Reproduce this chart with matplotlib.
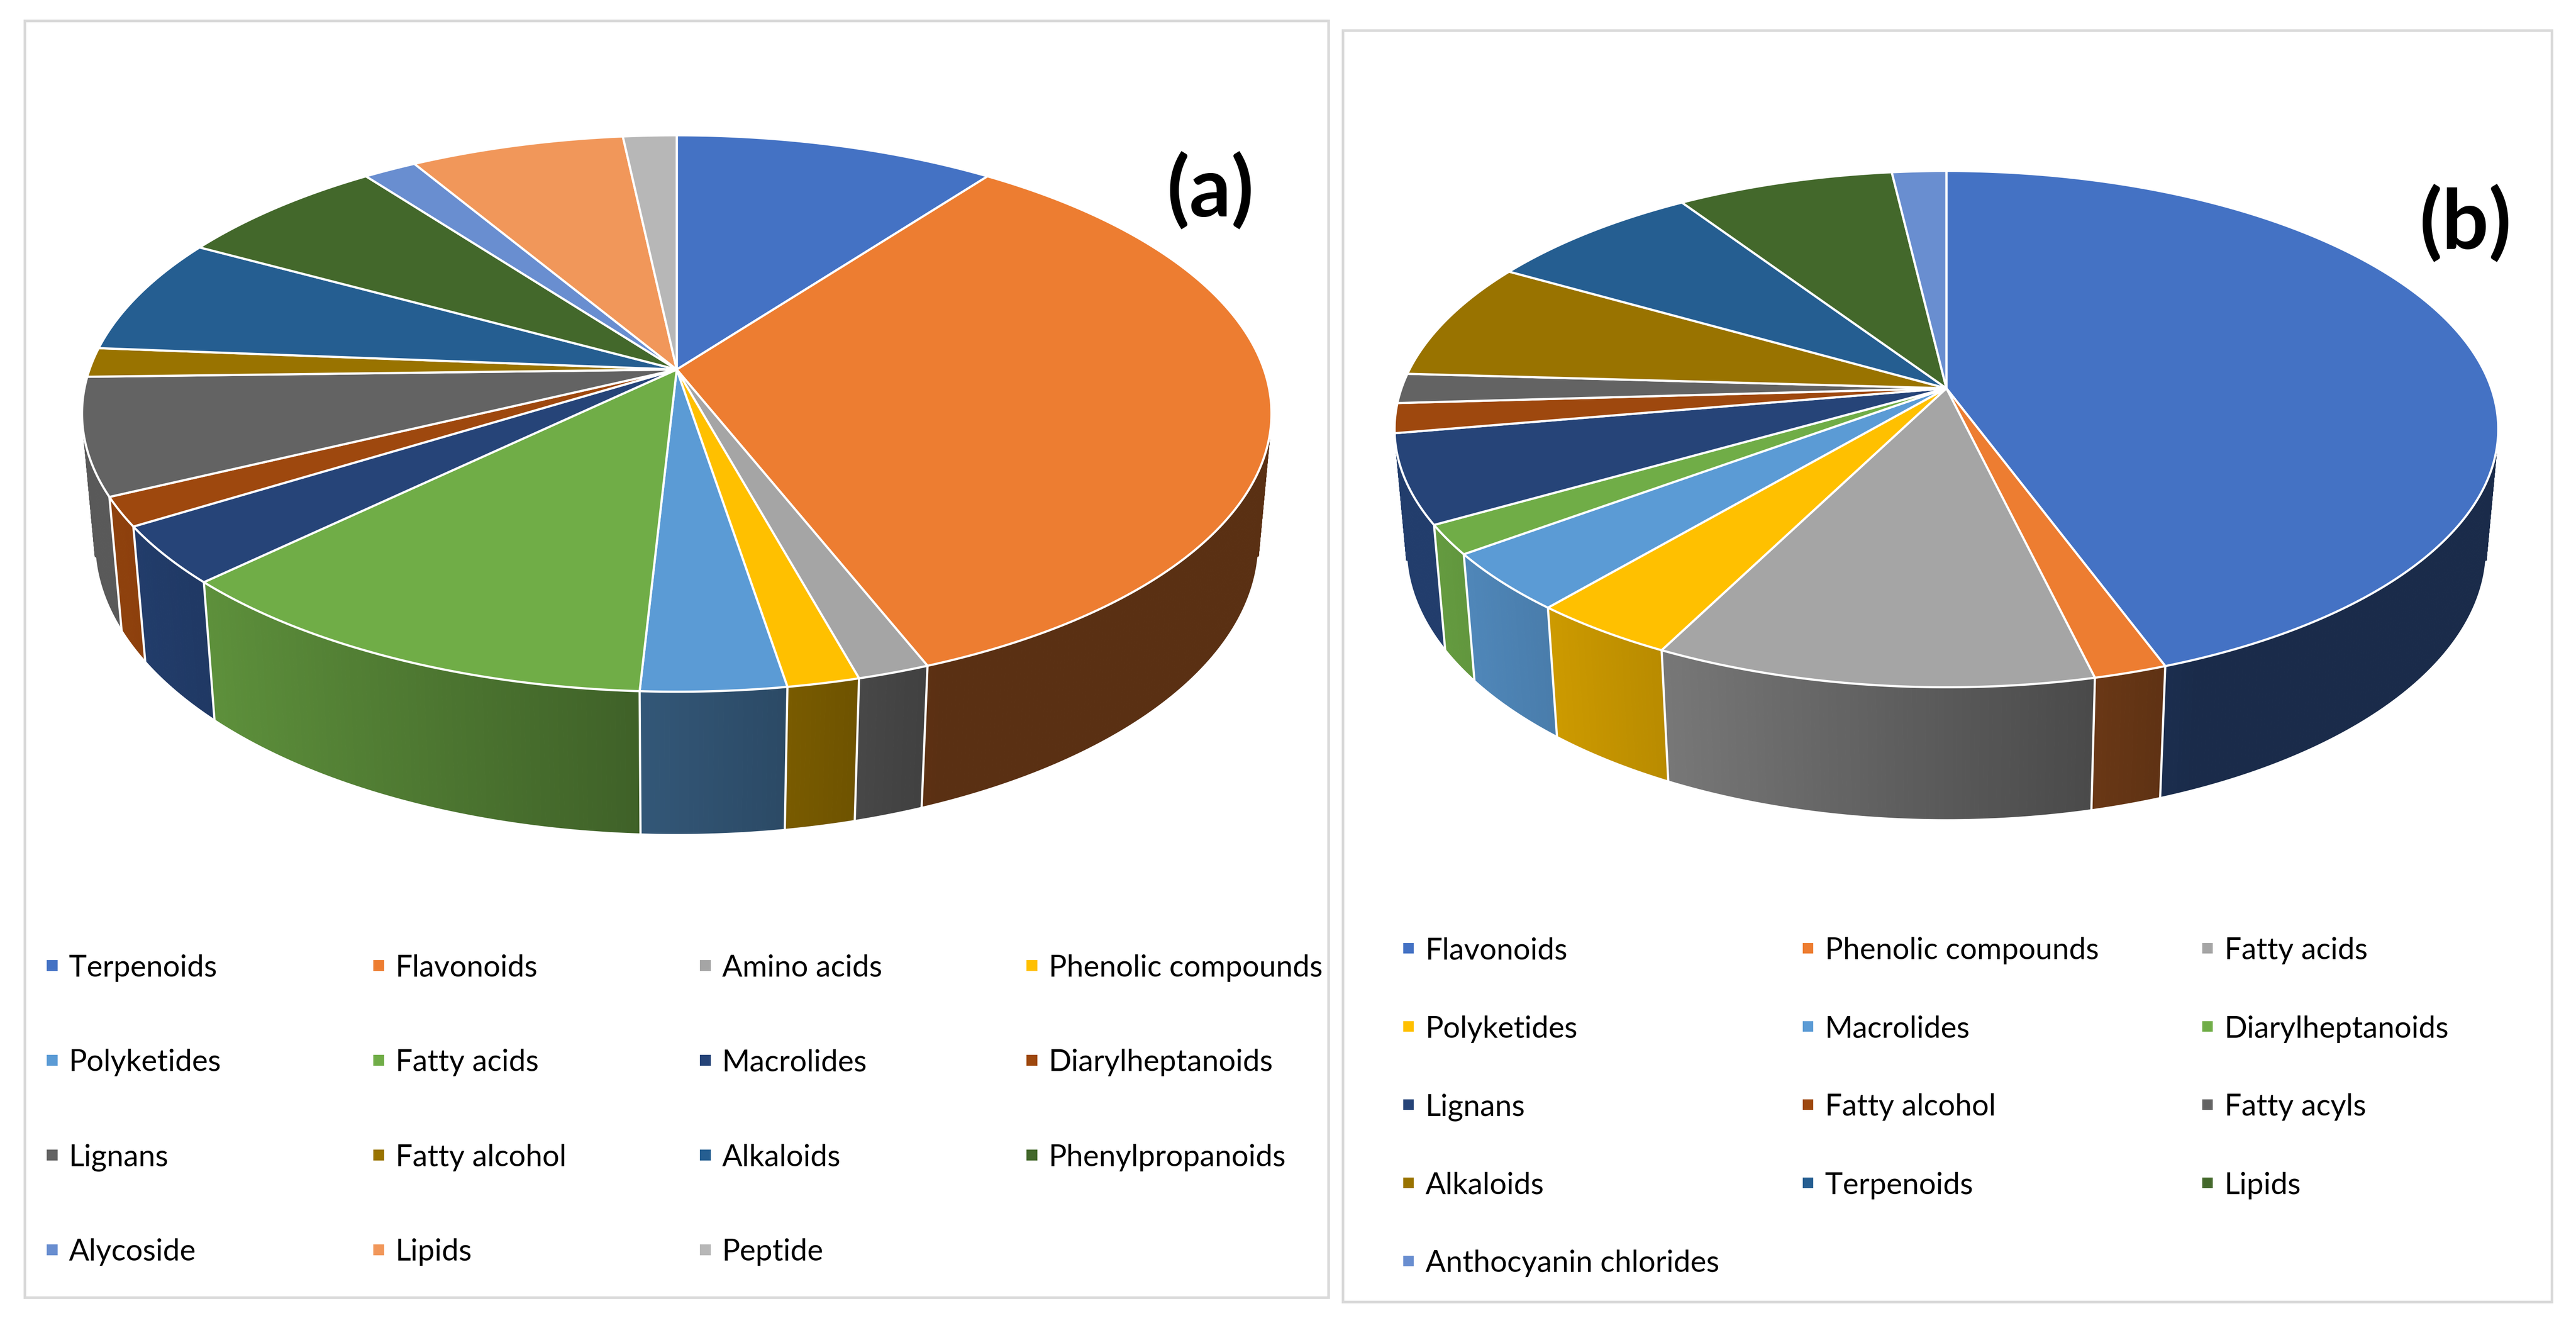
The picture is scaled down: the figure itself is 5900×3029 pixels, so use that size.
import numpy as np
import matplotlib
matplotlib.use("Agg")
import matplotlib.pyplot as plt
from matplotlib.patches import Polygon, Rectangle
from matplotlib.colors import to_rgb

plt.rcParams['font.family'] = ['Lato', 'DejaVu Sans']

# panel (a): number of compounds per class
labels_a = ["Terpenoids", "Flavonoids", "Amino acids", "Phenolic compounds",
            "Polyketides", "Fatty acids", "Macrolides", "Diarylheptanoids",
            "Lignans", "Fatty alcohol", "Alkaloids", "Phenylpropanoids",
            "Alycoside", "Lipids", "Peptide"]
counts_a = [6, 20, 1, 1, 2, 7, 2, 1, 4, 1, 4, 4, 1, 4, 1]

# panel (b)
labels_b = ["Flavonoids", "Phenolic compounds", "Fatty acids",
            "Polyketides", "Macrolides", "Diarylheptanoids",
            "Lignans", "Fatty alcohol", "Fatty acyls",
            "Alkaloids", "Terpenoids", "Lipids",
            "Anthocyanin chlorides"]
counts_b = [24, 1, 6, 2, 2, 1, 3, 1, 1, 4, 4, 4, 1]

# Office palette, in series order
office_colors = ["#4472C4", "#ED7D31", "#A5A5A5", "#FFC000", "#5B9BD5", "#70AD47",
                 "#264478", "#9E480E", "#636363", "#997300", "#255E91", "#43682B",
                 "#698ED0", "#F1975A", "#B7B7B7"]

W, H = 5900, 3029
TILT = np.radians(27.5)   # camera elevation
DIST = 5.61               # camera distance in pie radii
DEPTH = 0.25              # pie thickness in radii
EDGE_LW = 3.6


def project(theta, z, cx, cy, scale):
    """Point on the rim at angle theta (clockwise from 12 o'clock), height z."""
    x = np.sin(theta)
    y = -np.cos(theta)
    s, c = np.sin(TILT), np.cos(TILT)
    d = DIST - y * c - z * s
    u = cx + x * scale * DIST / d
    v = cy + (y * s - z * c) * scale * DIST / d
    return u, v


def wall_shade(theta):
    m = 0.54 - 0.41 * np.sin(theta)
    return float(np.clip(m, 0.38, 0.9))


def draw_pie(ax, counts, colors, cx, cy, scale):
    total = float(sum(counts))
    edges = np.concatenate([[0.0], np.cumsum(counts)]) / total * 2 * np.pi
    vis = -1.0 / (DIST * np.cos(TILT))
    step = np.radians(0.4)

    # side walls (only the part facing the viewer)
    for i in range(len(counts)):
        t0, t1 = edges[i], edges[i + 1]
        n = max(int((t1 - t0) / step), 2)
        ts = np.linspace(t0, t1, n + 1)
        base = np.array(to_rgb(colors[i]))
        for a, b in zip(ts[:-1], ts[1:]):
            if np.cos(a) > vis and np.cos(b) > vis:
                continue
            ua, va = project(a, 0, cx, cy, scale)
            ub, vb = project(b, 0, cx, cy, scale)
            ua2, va2 = project(a, -DEPTH, cx, cy, scale)
            ub2, vb2 = project(b, -DEPTH, cx, cy, scale)
            col = base * wall_shade((a + b) / 2)
            ax.add_patch(Polygon([(ua, va), (ub, vb), (ub2, vb2), (ua2, va2)],
                                 closed=True, facecolor=col, edgecolor=col,
                                 lw=0.8, zorder=1))
        # white outline of the visible wall piece
        ts_vis = ts[np.cos(ts) <= vis]
        if len(ts_vis) > 1:
            ub, vb = project(ts_vis, -DEPTH, cx, cy, scale)
            ax.plot(ub, vb, color="white", lw=EDGE_LW, zorder=2,
                    solid_capstyle="round")
    for t in edges:
        if np.cos(t) <= vis:
            u1, v1 = project(t, 0, cx, cy, scale)
            u2, v2 = project(t, -DEPTH, cx, cy, scale)
            ax.plot([u1, u2], [v1, v2], color="white", lw=EDGE_LW, zorder=2,
                    solid_capstyle="round")

    # top face
    for i in range(len(counts)):
        t0, t1 = edges[i], edges[i + 1]
        ts = np.linspace(t0, t1, max(int((t1 - t0) / step), 2) + 1)
        u, v = project(ts, 0, cx, cy, scale)
        pts = [(cx, cy)] + list(zip(u, v))
        ax.add_patch(Polygon(pts, closed=True, facecolor=colors[i],
                             edgecolor="white", lw=EDGE_LW, joinstyle="round",
                             zorder=3))


def draw_legend(ax, labels, colors, x0, y0, col_step, row_step, ncol, size):
    for k, lab in enumerate(labels):
        r, c = divmod(k, ncol)
        x = x0 + c * col_step
        y = y0 + r * row_step
        ax.add_patch(Rectangle((x, y - size / 2), size, size,
                               facecolor=colors[k], edgecolor="none", zorder=4))
        ax.text(x + 51, y, lab, fontsize=49.5, color="black",
                ha="left", va="center_baseline", zorder=4)


fig = plt.figure(figsize=(W / 100, H / 100), dpi=100)
ax = fig.add_axes([0, 0, 1, 1])
ax.set_xlim(0, W)
ax.set_ylim(H, 0)
ax.axis("off")

# panel frames
ax.add_patch(Rectangle((57, 48), 3043 - 57, 2971 - 48, facecolor="none",
                       edgecolor="#D9D9D9", lw=4.3, zorder=0))
ax.add_patch(Rectangle((3076, 70), 5845 - 3076, 2981 - 70, facecolor="none",
                       edgecolor="#D9D9D9", lw=4.3, zorder=0))

draw_pie(ax, counts_a, office_colors[:len(counts_a)], 1550, 846, 1345)
draw_pie(ax, counts_b, office_colors[:len(counts_b)], 4458, 889, 1248)

draw_legend(ax, labels_a, office_colors, 107, 2210, 748, 217, 4, 25)
draw_legend(ax, labels_b, office_colors, 3214, 2171, 915, 179, 3, 24)

ax.text(2772, 437, "(a)", fontsize=136, fontweight="bold", ha="center",
        va="center", color="black", zorder=5)
ax.text(5647, 512, "(b)", fontsize=136, fontweight="bold", ha="center",
        va="center", color="black", zorder=5)

fig.savefig("out.png", dpi=100, facecolor="white")
